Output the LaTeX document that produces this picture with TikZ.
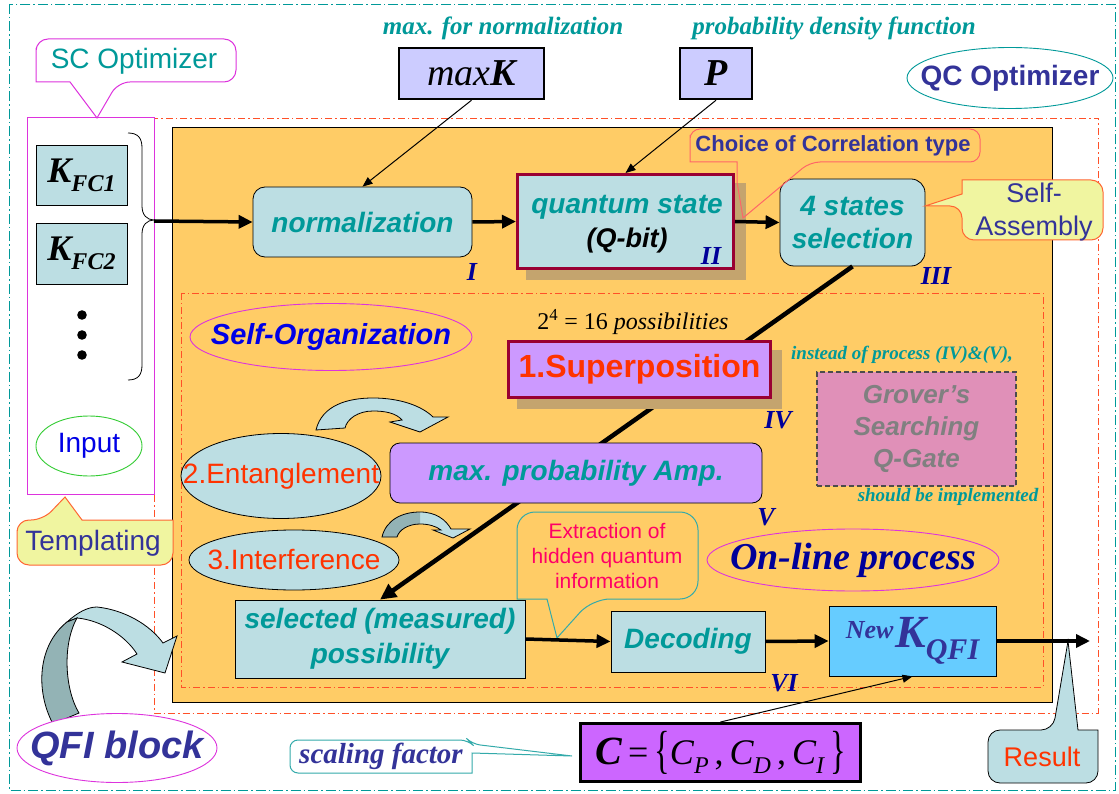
\documentclass[tikz,border=0pt]{standalone}
\usepackage{fontspec}
\setmainfont{Liberation Sans}
\newfontfamily\serif{Liberation Serif}
\usepackage{graphicx}
\usetikzlibrary{arrows.meta,shapes.geometric}
\newcommand\fs[1]{\fontsize{#1}{\fpeval{1.2*#1}}\selectfont}
\definecolor{lb}{RGB}{188,222,227}
\definecolor{org}{RGB}{255,204,102}
\definecolor{tealc}{RGB}{0,153,153}
\definecolor{navy}{RGB}{51,51,153}
\definecolor{numc}{RGB}{0,0,153}
\definecolor{lav1}{RGB}{204,204,255}
\definecolor{lav2}{RGB}{204,153,255}
\definecolor{skyc}{RGB}{102,204,255}
\definecolor{purc}{RGB}{204,102,255}
\definecolor{pinkc}{RGB}{224,144,184}
\definecolor{dred}{RGB}{153,0,51}
\definecolor{redt}{RGB}{255,51,0}
\definecolor{magc}{RGB}{221,51,221}
\definecolor{dashred}{RGB}{255,80,40}
\definecolor{greenc}{RGB}{51,204,51}
\definecolor{bluec}{RGB}{0,0,230}
\definecolor{yel}{RGB}{240,245,160}
\definecolor{callorg}{RGB}{255,102,51}
\definecolor{salm}{RGB}{255,102,102}
\definecolor{pinkr}{RGB}{255,0,102}
\definecolor{shadowc}{RGB}{196,164,110}
\definecolor{darkteal}{RGB}{147,179,181}
\definecolor{tealline}{RGB}{51,170,170}
\newcommand\arrowtwopath{(382,537) .. controls (386,520) and (402,512) .. (420,512) .. controls (436,512) and (446,520) .. (451,529) -- (470,529) -- (453,538) -- (433,530) -- (441,530) .. controls (436,526) and (428,524) .. (420,524) .. controls (408,524) and (399,530) .. (397,537) -- cycle}
\tikzset{
  box/.style={draw=black, line width=0.8pt, inner sep=0pt, align=center},
  oval/.style={ellipse, inner sep=0pt, line width=0.9pt},
  bigarrow/.style={line width=3.5pt, -{Triangle[length=14pt,width=13pt]}},
  thinarrow/.style={line width=1pt, -{Triangle[length=10pt,width=8pt]}},
  bsi/.style={font=\fs{28}\bfseries\itshape, text=tealc},
  roman/.style={font=\serif\fs{26}\bfseries\itshape, text=numc, inner sep=0pt},
  toplabel/.style={font=\serif\fs{25}\bfseries\itshape, text=tealc, inner sep=0pt},
  smalllabel/.style={font=\serif\fs{19}\bfseries\itshape, text=tealc, inner sep=0pt},
  tealdash/.style={draw=tealc, line width=0.9pt, dash pattern=on 10pt off 3pt on 1.5pt off 3pt},
  reddash/.style={draw=dashred, line width=0.9pt, dash pattern=on 7pt off 3pt on 1.5pt off 3pt},
  curvearrow/.style={draw=black, line width=0.8pt, fill=lb},
}
\begin{document}
\begin{tikzpicture}[x=1pt,y=-1pt]
\useasboundingbox (0,0) rectangle (1119,794);
\fill[white] (0,0) rectangle (1119,794);
% frames
\draw[tealdash] (9,4) rectangle (1115,790);
\draw[reddash] (154,118) rectangle (1098,713);
\draw[magc, line width=1pt, fill=white] (27,118) rectangle (154,494);
\draw[black, line width=0.8pt, fill=org] (172,127) rectangle (1052,702);
\draw[reddash] (181,293) rectangle (1043,687);

% left column
\node[box, fill=lb, minimum width=91pt, minimum height=60pt] (k1) at (81.5,175) {\serif\bfseries\itshape\fs{36}K\raisebox{-9pt}{\fs{24}FC1}};
\node[box, fill=lb, minimum width=91pt, minimum height=61pt] (k2) at (81.5,253.5) {\serif\bfseries\itshape\fs{36}K\raisebox{-9pt}{\fs{24}FC2}};
\fill (82,315) circle (4.8) (82,335) circle (4.8) (82,355) circle (4.8);
\draw[line width=0.8pt] (128,133) .. controls (138,133) and (142,138) .. (142,148) -- (142,206) .. controls (142,215) and (147,220) .. (154,220) .. controls (147,220) and (142,225) .. (142,234) -- (142,365) .. controls (142,375) and (138,380) .. (128,380);
\coordinate (bt) at (154,221);
\node[oval, draw=greenc, fill=white, minimum width=106pt, minimum height=60pt, font=\fs{28}, text=bluec] (inp) at (89,446) {\makebox[0pt]{Input}};

% SC Optimizer callout
\draw[magc, line width=1pt, fill=white, rounded corners=12pt] (36,60) -- (36,39) -- (236,39) -- (236,82) -- (118,82) [sharp corners] -- (97,118) -- (70,82) -- (36,82) [rounded corners=12pt] -- cycle;
\node[font=\fs{28}, text=tealc] (sc) at (134,61) {SC Optimizer};
% Templating callout
\draw[callorg, line width=1pt, fill=yel, rounded corners=12pt] (17,542) -- (17,520) -- (43,520) [sharp corners] -- (65,497) -- (82,520) -- (173,520) [rounded corners=12pt] -- (173,565) -- (17,565) -- cycle;
\node[font=\fs{28}, text=navy] (tpl) at (93,543) {Templating};

% top inputs
\node[toplabel] (t1) at (503,28) {max. for normalization};
\node[toplabel] (t2) at (834,28) {probability density function};
\node[box, fill=lav1, line width=2.5pt, minimum width=145pt, minimum height=51pt] (maxk) at (471.5,73.5) {\serif\fs{38}\itshape max\textbf{K}};
\node[box, fill=lav1, line width=2.5pt, minimum width=72pt, minimum height=51pt] (pp) at (716,73.5) {\serif\fs{38}\bfseries\itshape P};
\node[oval, draw=tealc, minimum width=206pt, minimum height=61pt, font=\fs{28}\bfseries, text=navy] (qc) at (1010,78) {\makebox[0pt]{QC Optimizer}};

% row 1
\node[box, fill=lb, rounded corners=12pt, minimum width=219pt, minimum height=70pt, bsi] (norm) at (362.5,222) {normalization};
\fill[shadowc] (526,183) rectangle (746,280);
\node[box, fill=lb, draw=dred, line width=3pt, minimum width=216pt, minimum height=94pt] (qs) at (625.5,221.5) {};
\node[bsi, align=center, inner sep=0pt] (qst) at (627,224) {quantum state\\[0pt]{\color{black}\fs{27}(Q-bit)}};
\node[box, fill=lb, rounded corners=14pt, minimum width=145pt, minimum height=87pt, bsi, align=center] (s4) at (852.5,222.5) {4 states\\selection};
\draw[bigarrow] (bt) -- (norm.west);
\draw[bigarrow] (norm.east) -- (qs.west);
\draw[bigarrow] (qs.east) -- (s4.west);
\draw[thinarrow] (maxk.south) -- (norm.north);
\draw[thinarrow] (pp.south) -- (qs.north);
\node[roman] (r1) at (472,272) {I};
\node[roman] (r2) at (711,256) {II};
\node[roman] (r3) at (936,276) {III};

% Choice callout
\draw[salm, line width=1pt, rounded corners=10pt] (690,145) -- (690,129) -- (980,129) -- (980,162) -- (810,162) [sharp corners] -- (743,218) -- (737,182) -- (737,162) -- (690,162) [rounded corners=10pt] -- cycle;
\node[font=\fs{22}\bfseries, text=navy] (ch) at (833,146) {Choice of Correlation type};
% Self-Assembly callout
\draw[callorg, line width=1pt, fill=yel, rounded corners=12pt] (1030,180) -- (1103,180) -- (1103,240) -- (962,240) -- (962,206) [sharp corners] -- (925,206) -- (962,194) -- (962,180) [rounded corners=12pt] -- cycle;
\node[font=\fs{27}, text=navy, align=center, inner sep=0pt] (sa) at (1034,212) {Self-\\Assembly};

% lower part
\node[box, fill=lb, minimum width=290pt, minimum height=78pt, bsi, align=center] (sel) at (380,639) {selected (measured)\\[1pt]possibility};
\draw[line width=4.5pt, -{Triangle[length=16pt,width=15pt]}] (s4.south) -- (sel.north);
\node[oval, draw=magc, minimum width=282pt, minimum height=67pt, font=\fs{29}\bfseries\itshape, text=bluec] (so) at (331,337) {\makebox[0pt]{Self-Organization}};
\node[font=\serif\fs{24}, inner sep=0pt] (pos) at (633,322) {2\textsuperscript{4} = 16 \textit{possibilities}};
\fill[shadowc] (517,350) rectangle (782,409);
\node[box, fill=lav2, draw=dred, line width=3pt, minimum width=262pt, minimum height=56pt, font=\fs{32}\bfseries, text=redt] (sup) at (639.5,369.5) {1.Superposition};
\node[roman] (r4) at (778,420) {IV};
\node[smalllabel] (ins) at (902,355) {instead of process (IV)\&(V),};
\node[draw=black!70, dash pattern=on 5pt off 3pt, fill=pinkc, line width=1.2pt, minimum width=199pt, minimum height=114pt, inner sep=0pt, font=\fs{26}\bfseries\itshape, text=black!50, align=center] (gr) at (916.5,429) {Grover’s\\[1pt]Searching\\[1pt]Q-Gate};
\node[smalllabel] (imp) at (948,497) {should be implemented};

% curved arrow 1
\draw[curvearrow] (316,430) .. controls (322,405) and (348,398) .. (373,398) .. controls (400,398) and (422,406) .. (433,417) -- (448,417) -- (420,432) -- (390,422) -- (402,420) .. controls (396,413) and (385,411) .. (373,411) .. controls (358,411) and (347,419) .. (345,428) -- cycle;
\node[oval, draw=black, line width=0.8pt, fill=lb, minimum width=200pt, minimum height=85pt, font=\fs{28}, text=redt] (ent) at (281,476) {\makebox[0pt]{2.Entanglement}};
\node[box, fill=lav2, rounded corners=10pt, minimum width=372pt, minimum height=60pt, bsi] (mp) at (576,473) {max. probability Amp.};
\node[roman] (r5) at (766,517) {V};
% curved arrow 2
\fill[lb] \arrowtwopath;
\begin{scope}
\clip (370,500) rectangle (420,545);
\fill[darkteal] \arrowtwopath;
\end{scope}
\draw[line width=0.8pt] \arrowtwopath;
\node[oval, draw=black, line width=0.8pt, fill=lb, minimum width=210pt, minimum height=60pt, font=\fs{28}, text=redt] (itf) at (294,560) {\makebox[0pt]{3.Interference}};

% Extraction callout
\draw[tealline, line width=1pt, rounded corners=18pt] (517,550) -- (517,512) -- (698,512) -- (698,599) -- (592,599) [sharp corners] -- (557,638) -- (547,599) -- (517,599) [rounded corners=18pt] -- cycle;
\node[font=\fs{21}, text=pinkr, align=center, inner sep=0pt] (ex) at (607,556) {Extraction of\\hidden quantum\\information};
\node[oval, draw=magc, minimum width=292pt, minimum height=62pt, font=\serif\fs{38}\bfseries\itshape, text=numc] (ol) at (853,560) {\makebox[0pt]{On-line process}};

\node[box, fill=lb, minimum width=154pt, minimum height=61pt, bsi] (dec) at (688,641.5) {Decoding};
\node[box, fill=skyc, minimum width=167pt, minimum height=70pt, font=\serif\bfseries\itshape, text=navy] (nk) at (912.5,641) {\raisebox{9pt}{\fs{26}New}\,\fs{46}K\raisebox{-12pt}{\fs{30}QFI}};
\draw[bigarrow] (sel.east) -- (dec.west);
\draw[bigarrow] (dec.east) -- (nk.west);
\coordinate (res) at (1090,641);
% Result callout
\draw[black, line width=0.8pt, fill=lb, rounded corners=12pt] (988,757) -- (988,730) -- (1053,730) [sharp corners] -- (1068,641) -- (1078,730) -- (1098,730) [rounded corners=12pt] -- (1098,783) -- (988,783) -- cycle;
\node[font=\fs{27}, text=redt] (rs) at (1042,757) {Result};
\draw[bigarrow] (nk.east) -- (res);
\node[roman] (r6) at (784,683) {VI};

% C box
\node[box, fill=purc, line width=3pt, minimum width=280pt, minimum height=58pt, font=\serif\fs{36}\itshape] (cb) at (720.5,752.5) {{\fs{40}\bfseries C}\,{\upshape =}\,\raisebox{-3pt}{\scalebox{0.9}[1.45]{\upshape\{}}C\raisebox{-9pt}{\fs{24}P}\,{\upshape,}\,C\raisebox{-9pt}{\fs{24}D}\,{\upshape,}\,C\raisebox{-9pt}{\fs{24}I}\,\raisebox{-3pt}{\scalebox{0.9}[1.45]{\upshape\}}}};
\draw[thinarrow] (cb.north) -- (nk.south);
% scaling factor callout
\draw[tealline, line width=1pt, fill=white, rounded corners=8pt] (290,756) -- (290,740) -- (468,740) -- (472,744) [sharp corners] -- (572,756) -- (472,753) -- (472,773) [rounded corners=8pt] -- (290,773) -- cycle;
\node[font=\serif\fs{29}\bfseries\itshape, text=navy] (sf) at (381,756) {scaling factor};

% QFI block
\draw[curvearrow] (67,622) .. controls (78,612) and (88,607) .. (97,607) .. controls (125,610) and (150,625) .. (163,643) -- (177,636) -- (165,673) -- (122,662) -- (137,654) .. controls (125,635) and (100,620) .. (77,618) -- cycle;
\draw[curvearrow, fill=darkteal] (53,724) .. controls (35,690) and (38,645) .. (67,622) -- (77,618) .. controls (62,645) and (65,690) .. (79,713) -- cycle;
\node[oval, draw=magc, fill=white, minimum width=200pt, minimum height=69pt, font=\fs{38}\bfseries\itshape, text=navy] (qfi) at (117,748) {\makebox[0pt]{QFI block}};
\end{tikzpicture}
\end{document}
